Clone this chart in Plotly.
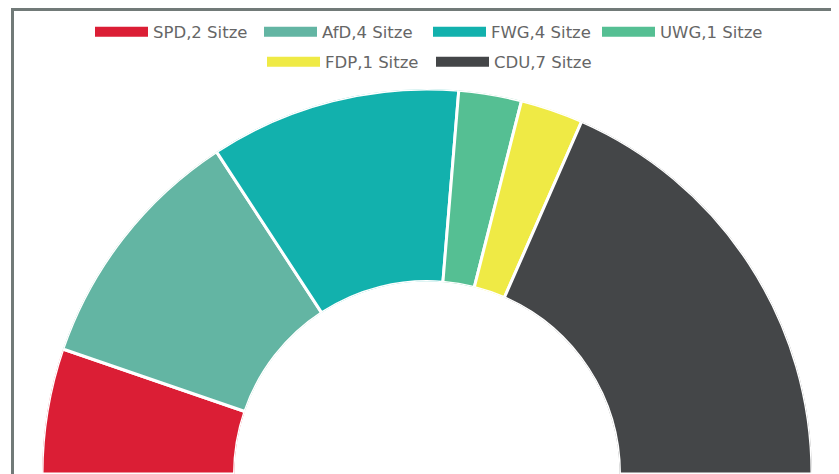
import plotly.graph_objects as go

parties = ["SPD", "AfD", "FWG", "UWG", "FDP", "CDU"]
seats = [2, 4, 4, 1, 1, 7]
colors = ["#db1e35", "#63b5a3", "#12b1ad", "#55bf93", "#efea45", "#444648"]
labels = [f"{p},{s} Sitze" for p, s in zip(parties, seats)]

# the page body has an 8px margin, so the figure is sized to fit the window
OFF = 8
W, H = 839 - OFF, 474 - OFF
total = sum(seats)

def px(x):
    return (x - OFF) / W

def py(y):
    return 1 - (y - OFF) / H

fig = go.Figure()

# half-donut slices (clockwise from the left)
cum = 0
for p, s, c in zip(parties, seats, colors):
    span = s * 180.0 / total
    mid = 180.0 - (cum + s / 2.0) * 180.0 / total
    cum += s
    fig.add_trace(go.Barpolar(
        r=[1], theta=[mid], width=[span], base=0,
        marker=dict(color=c, line=dict(color="white", width=3)),
        name=p, showlegend=False, hoverinfo="skip",
    ))

# legend entries
for i, (lab, c) in enumerate(zip(labels, colors)):
    fig.add_trace(go.Scatter(
        x=[None], y=[None], mode="lines", name=lab,
        line=dict(color=c, width=13),
        legend="legend" if i < 4 else "legend2",
    ))

legend_common = dict(
    orientation="h", xanchor="left", yanchor="middle",
    font=dict(family="DejaVu Sans, Arial", size=16.5, color="#666666"),
    itemwidth=53, entrywidth=101, entrywidthmode="pixels",
    bgcolor="rgba(0,0,0,0)", tracegroupgap=0,
)

fig.update_layout(
    width=W, height=H,
    margin=dict(l=0, r=0, t=0, b=0, autoexpand=False),
    paper_bgcolor="white", plot_bgcolor="white",
    xaxis=dict(visible=False), yaxis=dict(visible=False),
    polar=dict(
        sector=[0, 180], hole=0.5, bgcolor="white",
        domain=dict(x=[px(42), px(812)], y=[0, py(89)]),
        radialaxis=dict(visible=False, range=[0, 1]),
        angularaxis=dict(visible=False, direction="counterclockwise", rotation=0),
        bargap=0,
    ),
    legend=dict(x=px(90), y=py(32), **legend_common),
    legend2=dict(x=px(262), y=py(62), **legend_common),
    shapes=[dict(type="rect", xref="paper", yref="paper",
                 x0=px(12.5), x1=px(836.5), y0=-0.05, y1=py(9.5),
                 line=dict(color="#717a78", width=3), layer="above")],
)

fig.write_html("out.html")
